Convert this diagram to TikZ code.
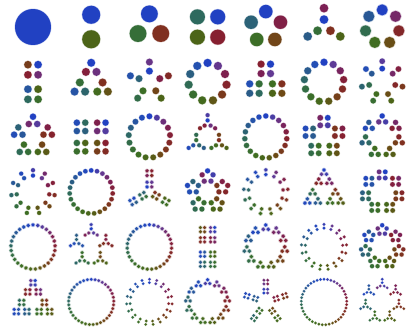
\documentclass[tikz,border=0pt]{standalone}
\usepackage{tikz}
\definecolor{fdc0}{HTML}{2141C2}
\definecolor{fdc1}{HTML}{633A93}
\definecolor{fdc2}{HTML}{7C2055}
\definecolor{fdc3}{HTML}{862030}
\definecolor{fdc4}{HTML}{803020}
\definecolor{fdc5}{HTML}{6E4A16}
\definecolor{fdc6}{HTML}{4C6418}
\definecolor{fdc7}{HTML}{3E6E22}
\definecolor{fdc8}{HTML}{356E38}
\definecolor{fdc9}{HTML}{2E6A5E}
\definecolor{fdc10}{HTML}{2A5C88}
\definecolor{fdc11}{HTML}{2450B4}
\newcount\fdcount
\def\fdR{24.5}
\def\fdf{0.73}
\def\fdN{1}
\def\fdlayer#1#2#3#4#5#6{%
  \if\relax\detokenize{#6}\relax
    \fdleaf{#1}{#2}{#3}%
  \else
    \fdsplit{#1}{#2}{#3}{#4}{#5}#6\fdstop
  \fi}
\def\fdleaf#1#2#3{%
  \pgfmathsetmacro\fdt{12*mod(\the\fdcount,\fdN)/\fdN}%
  \pgfmathtruncatemacro\fdki{floor(\fdt)}%
  \pgfmathtruncatemacro\fdw{round(100*(1-\fdt+\fdki))}%
  \pgfmathtruncatemacro\fdkj{mod(\fdki+1,12)}%
  \pgfmathsetmacro\fdr{\fdf*#1+0.1}%
  \pgfmathsetmacro\fdrh{\fdr+0.5}%
  \edef\fdcol{fdc\fdki!\fdw!fdc\fdkj}%
  \colorlet{fdcur}{\fdcol}%
  \fill[fdcur!30] (#2pt,#3pt) circle[radius=\fdrh pt];%
  \fill[fdcur] (#2pt,#3pt) circle[radius=\fdr pt];%
  \global\advance\fdcount by 1\relax}
\def\fdsplit#1#2#3#4#5#6,#7\fdstop{%
  \begingroup
  \pgfmathsetmacro\fds{sin(180/#6)}%
  \pgfmathsetmacro\fdD{#1/(1+\fds)}%
  \pgfmathsetmacro\fdRs{#1*\fds/(1+\fds)}%
  \ifnum#6=2\relax
    \pgfmathsetmacro\fdstart{#4+#5}\def\fdmode{2}%
  \else\ifnum#6=4\relax
    \pgfmathsetmacro\fdstart{45+#5}\def\fdmode{4}%
  \else
    \pgfmathsetmacro\fdstart{#5}\def\fdmode{3}%
  \fi\fi
  \foreach \fdk in {1,...,#6}{%
    \pgfmathsetmacro\fdpsi{\fdstart+360*(\fdk-1)/#6}%
    \pgfmathsetmacro\fdx{#2+\fdD*sin(\fdpsi)}%
    \pgfmathsetmacro\fdy{#3+\fdD*cos(\fdpsi)}%
    \ifnum\fdmode=3\relax
      \pgfmathsetmacro\fdh{\fdpsi+180}\edef\fdg{#5}%
    \else\ifnum\fdmode=2\relax
      \def\fdh{0}\edef\fdg{\fdstart}%
    \else
      \def\fdh{0}\edef\fdg{#5}%
    \fi\fi
    \edef\fdnext{\noexpand\fdlayer{\fdRs}{\fdx}{\fdy}{\fdh}{\fdg}{#7}}%
    \fdnext
  }%
  \endgroup}
\newcommand\fdcell[4]{%
  \global\fdcount=0\relax
  \def\fdN{#1}%
  \pgfmathsetmacro\fdcx{33+58.2*#2}%
  \pgfmathsetmacro\fdcy{-(27+55*#3)}%
  \edef\fdnext{\noexpand\fdlayer{\fdR}{\fdcx}{\fdcy}{0}{0}{#4}}%
  \fdnext}
\begin{document}
\begin{tikzpicture}
\useasboundingbox (0pt,0pt) rectangle (407pt,-330pt);
\fill[white] (0pt,0pt) rectangle (407pt,-330pt);
% row 0
\fdcell{1}{0}{0}{}
\fdcell{2}{1}{0}{2,}
\fdcell{3}{2}{0}{3,}
\fdcell{4}{3}{0}{4,}
\fdcell{5}{4}{0}{5,}
\fdcell{6}{5}{0}{3,2,}
\fdcell{7}{6}{0}{7,}
% row 1
\fdcell{8}{0}{1}{2,4,}
\fdcell{9}{1}{1}{3,3,}
\fdcell{10}{2}{1}{5,2,}
\fdcell{11}{3}{1}{11,}
\fdcell{12}{4}{1}{3,4,}
\fdcell{13}{5}{1}{13,}
\fdcell{14}{6}{1}{7,2,}
% row 2
\fdcell{15}{0}{2}{5,3,}
\fdcell{16}{1}{2}{4,4,}
\fdcell{17}{2}{2}{17,}
\fdcell{18}{3}{2}{3,3,2,}
\fdcell{19}{4}{2}{19,}
\fdcell{20}{5}{2}{5,4,}
\fdcell{21}{6}{2}{7,3,}
% row 3
\fdcell{22}{0}{3}{11,2,}
\fdcell{23}{1}{3}{23,}
\fdcell{24}{2}{3}{3,2,4,}
\fdcell{25}{3}{3}{5,5,}
\fdcell{26}{4}{3}{13,2,}
\fdcell{27}{5}{3}{3,3,3,}
\fdcell{28}{6}{3}{7,4,}
% row 4
\fdcell{29}{0}{4}{29,}
\fdcell{30}{1}{4}{5,3,2,}
\fdcell{31}{2}{4}{31,}
\fdcell{32}{3}{4}{2,4,4,}
\fdcell{33}{4}{4}{11,3,}
\fdcell{34}{5}{4}{17,2,}
\fdcell{35}{6}{4}{7,5,}
% row 5
\fdcell{36}{0}{5}{3,3,4,}
\fdcell{37}{1}{5}{37,}
\fdcell{38}{2}{5}{19,2,}
\fdcell{39}{3}{5}{13,3,}
\fdcell{40}{4}{5}{5,2,4,}
\fdcell{41}{5}{5}{41,}
\fdcell{42}{6}{5}{7,3,2,}
\end{tikzpicture}
\end{document}
